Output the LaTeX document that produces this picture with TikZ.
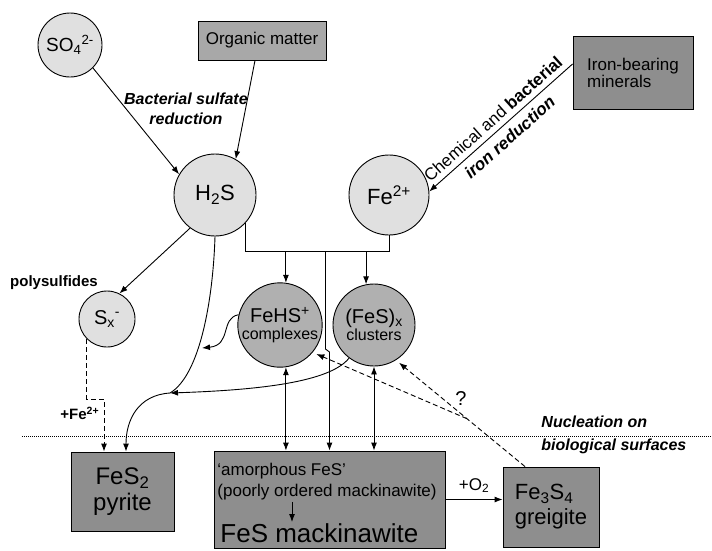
\documentclass[tikz,border=0pt]{standalone}
\usepackage{fontspec}
\setmainfont{Liberation Sans}
\usetikzlibrary{arrows.meta}
\definecolor{lightfill}{HTML}{E0E0E0}
\definecolor{midfill}{HTML}{B0B0B0}
\definecolor{orgfill}{HTML}{A8A8A8}
\definecolor{darkfill}{HTML}{8E8E8E}
\newcommand{\fs}[1]{\fontsize{#1}{#1}\selectfont}
\begin{document}
\begin{tikzpicture}[x=1pt,y=-1pt,line width=0.9pt,>={Latex[length=8pt,width=6pt]},
    lightcirc/.style={circle,draw,fill=lightfill,inner sep=0pt,minimum size=#1},
    darkcirc/.style={circle,draw,fill=midfill,inner sep=0pt,minimum size=#1,align=center,font=\fs{16}},
    srcbox/.style={rectangle,draw,inner sep=0pt,font=\fs{17}},
    minbox/.style={rectangle,draw,fill=darkfill,inner sep=0pt},
    lbl/.style={font=\fontsize{16}{20}\selectfont\bfseries\itshape,align=center,inner sep=1pt},
    dashline/.style={dash pattern=on 5pt off 3pt}]
    \useasboundingbox (0,0) rectangle (712,550);
    % sources
    \node[lightcirc=64,font=\fs{19}] (so4) at (70,45) {SO\textsubscript{4}\textsuperscript{2-}};
    \node[srcbox,fill=orgfill,minimum width=128,minimum height=39] (orgm) at (262,40.5) {Organic matter};
    \node[srcbox,fill=darkfill,minimum width=120,minimum height=73,align=left] (iron) at (633,72.5) {Iron-bearing\\minerals};
    % dissolved species
    \node[lightcirc=82,font=\fs{22}] (h2s) at (215,195) {H\textsubscript{2}S};
    \node[lightcirc=80,font=\fs{22}] (fe) at (389,195) {Fe\textsuperscript{2+}};
    \node[lightcirc=56,font=\fs{20}] (sx) at (107,319) {S\textsubscript{x}\textsuperscript{-}};
    \node[font=\fs{15}\bfseries] (poly) at (54,283) {polysulfides};
    \node[darkcirc=84] (fehs) at (280,325) {{\fs{20}FeHS\textsuperscript{+}}\\[1pt]complexes};
    \node[darkcirc=82] (fesx) at (374,325) {{\fs{20}(FeS)\textsubscript{x}}\\[1pt]clusters};
    % minerals
    \node[minbox,minimum width=103,minimum height=79,align=center,font=\fs{24}] (pyrite) at (122.5,491.5) {FeS\textsubscript{2}\\[2pt]pyrite};
    \node[minbox,minimum width=231,minimum height=97] (mack) at (329.5,499.5) {};
    \node[anchor=north west,align=left,font=\fontsize{17}{21}\selectfont,inner sep=1pt] (amor) at (216,462) {`amorphous FeS'\\(poorly ordered mackinawite)};
    \node[anchor=west,font=\fs{26},inner sep=1pt] (mackfes) at (219,533) {FeS mackinawite};
    \node[minbox,minimum width=96,minimum height=80,align=left,font=\fs{22}] (greig) at (551,507) {Fe\textsubscript{3}S\textsubscript{4}\\[3pt]greigite};
    % helper points
    \coordinate (bar) at (0,251);
    \coordinate (ax) at (292,0);
    \coordinate (mid) at (170,393);
    \coordinate (hit) at (202,348);
    \coordinate (kink) at (104,399);
    % production of H2S and Fe2+
    \draw[->] (so4.-45) -- (h2s.150)
        node[lbl,pos=0.38,anchor=west,xshift=-3pt] {Bacterial sulfate\\reduction};
    \draw[->] ([xshift=-7pt]orgm.south) -- (h2s.60);
    \draw[<-] (fe.5) -- (iron.172)
        node[midway,sloped,above=2pt,font=\fs{17}] {Chemical and \textbf{bacterial}}
        node[midway,sloped,below=3pt,font=\fs{17}\bfseries\itshape] {iron reduction};
    \draw[->] (h2s.233) -- (sx.64);
    % joint supply
    \draw (h2s.-43) |- (fe.south |- bar) -- (fe.south);
    \draw[->] (fehs.82 |- bar) -- (fehs.82);
    \draw[->] (fesx.101 |- bar) -- (fesx.101);
    \draw[->] ([xshift=-4pt]mack.north |- bar) -- ++(0,98) -- ++(4,3) -- (mack.north);
    \draw[<->] (fehs.-82) -- (fehs.-82 |- mack.north);
    \draw[<->] (fesx.south) -- (fesx.south |- mack.north);
    % pyrite pathways
    \draw[->] (h2s.south) .. controls (213,300) and (200,375) .. (mid)
        .. controls (138,395) and (126,420) .. ([xshift=3.5pt]pyrite.north);
    \draw[->] (fesx.233) .. controls (330,382) and (260,390) .. (mid);
    \draw[->] (fehs.166) .. controls (220,318) and (232,345) .. (hit);
    \draw[->,dashline] (sx.225) |- (kink) -- node[pos=0.27,left=1pt,font=\fs{15}\bfseries] {+Fe\textsuperscript{2+}} (kink |- pyrite.north);
    % greigite
    \draw[->] (mack.east) -- node[above=3pt,font=\fs{17}] {+O\textsubscript{2}} (mack.east -| greig.west);
    \draw[->,dashline,shorten >=4pt] ([xshift=-26pt]greig.north) -- coordinate[pos=0.45] (br) (fesx.-58);
    \draw[->,dashline,shorten >=4pt] (br) -- (fehs.-40);
    \node[font=\fs{20}] (qm) at (461,399) {?};
    % nucleation level
    \draw[line width=0.6pt,dash pattern=on 1pt off 1pt] (22,436) -- (712,436);
    \node[lbl,anchor=north west,align=left] (nucl) at (540,414) {Nucleation on\\[3pt]biological surfaces};
    \draw[->] (amor.south -| ax) -- (mackfes.north -| ax);
\end{tikzpicture}
\end{document}
